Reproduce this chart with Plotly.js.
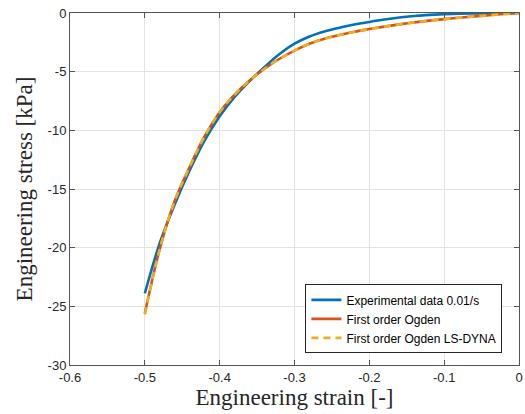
<!DOCTYPE html>
<html>
<head>
<meta charset="utf-8">
<script src="https://cdn.plot.ly/plotly-3.0.1.min.js"></script>
<style>html,body{margin:0;padding:0;background:#fff;}#chart{width:525px;height:414px;}</style>
</head>
<body>
<div id="chart"></div>
<script>
// Engineering strain [-]
const strain = [-0.50,-0.48,-0.46,-0.44,-0.42,-0.40,-0.38,-0.36,-0.34,-0.32,-0.30,-0.28,-0.26,-0.24,-0.22,-0.20,-0.18,-0.16,-0.14,-0.12,-0.10,-0.08,-0.06,-0.04,-0.02,0];
// Experimental data 0.01/s [kPa]
const stressExp = [-23.9,-19.6,-16.3,-13.4,-10.85,-8.8,-7.15,-5.8,-4.6,-3.5,-2.62,-2.0,-1.57,-1.25,-0.98,-0.76,-0.56,-0.39,-0.26,-0.16,-0.10,-0.06,-0.04,-0.03,-0.02,0];
// First order Ogden [kPa]
const stressOgden = [-25.6,-20.1,-16.0,-13.1,-10.5,-8.45,-6.95,-5.75,-4.75,-3.9,-3.2,-2.62,-2.2,-1.88,-1.6,-1.37,-1.16,-0.97,-0.80,-0.65,-0.52,-0.40,-0.29,-0.19,-0.09,0];
// First order Ogden LS-DYNA [kPa]
const stressDyna = [-25.7,-20.1,-16.0,-13.1,-10.5,-8.45,-6.95,-5.75,-4.75,-3.9,-3.2,-2.62,-2.2,-1.88,-1.6,-1.37,-1.16,-0.97,-0.80,-0.65,-0.52,-0.40,-0.29,-0.19,-0.09,0];
const names = ['Experimental data 0.01/s','First order Ogden','First order Ogden LS-DYNA'];
const xTicks = [-0.6,-0.5,-0.4,-0.3,-0.2,-0.1,0];
const xTickText = ['-0.6','-0.5','-0.4','-0.3','-0.2','-0.1','0'];
const yTicks = [-30,-25,-20,-15,-10,-5,0];
const yTickText = ['-30','-25','-20','-15','-10','-5','0'];

const traces = [
  {x: strain, y: stressExp, name: names[0], mode: 'lines', line: {color: '#0072BD', width: 2.6, shape: 'spline', smoothing: 1}},
  {x: strain, y: stressOgden, name: names[1], mode: 'lines', line: {color: '#D95319', width: 2.6, shape: 'spline', smoothing: 1}},
  {x: strain, y: stressDyna, name: names[2], mode: 'lines', line: {color: '#EDB120', width: 2.6, dash: '7px,5px', shape: 'spline', smoothing: 1}}
];
const axisCommon = {
  showline: true, mirror: 'ticks', linecolor: '#555', linewidth: 1,
  ticks: 'inside', ticklen: 5, tickcolor: '#555', tickwidth: 1,
  showgrid: true, gridcolor: '#e3e3e3', gridwidth: 1, zeroline: false,
  tickfont: {family: 'Liberation Sans, Arial, sans-serif', size: 13, color: '#262626'}
};
const layout = {
  width: 525, height: 414,
  margin: {l: 69.5, r: 5.5, t: 13, b: 49},
  paper_bgcolor: '#fff', plot_bgcolor: '#fff',
  showlegend: true,
  xaxis: Object.assign({}, axisCommon, {
    range: [-0.6, 0], tickvals: xTicks, ticktext: xTickText,
    title: {text: 'Engineering strain [-]', font: {family: 'Liberation Serif, serif', size: 23, color: '#262626'}, standoff: 4}
  }),
  yaxis: Object.assign({}, axisCommon, {
    range: [-30, 0], tickvals: yTicks, ticktext: yTickText,
    title: {text: 'Engineering stress [kPa]', font: {family: 'Liberation Serif, serif', size: 23, color: '#262626'}, standoff: 8}
  }),
  legend: {
    x: 0.963, y: 0.033, xanchor: 'right', yanchor: 'bottom',
    bgcolor: '#fff', bordercolor: '#262626', borderwidth: 1,
    font: {family: 'Liberation Sans, Arial, sans-serif', size: 12, color: '#000'},
    tracegroupgap: 0
  }
};
Plotly.newPlot('chart', traces, layout, {displayModeBar: false, staticPlot: true});
</script>
</body>
</html>
